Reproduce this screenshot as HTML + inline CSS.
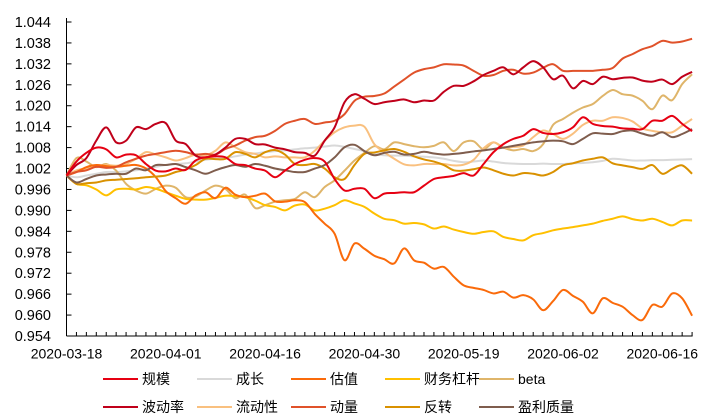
<!DOCTYPE html>
<html><head><meta charset="utf-8">
<style>
html,body{margin:0;padding:0;background:#fff;}
svg{display:block;font-family:"Liberation Sans","Noto Sans CJK SC",sans-serif;}
</style></head>
<body>
<svg id="chart" width="711" height="420" viewBox="0 0 711 420" xmlns="http://www.w3.org/2000/svg">
<g id="grid-axes"></g>
<g id="series"></g>
<g id="legend"></g>
</svg>
<script>
const xTickLabels = ["2020-03-18","2020-04-01","2020-04-16","2020-04-30","2020-05-19","2020-06-02","2020-06-16"];
const xLabelIndex = [0,10,20,30,40,50,60];
const yTicks = [0.954,0.960,0.966,0.972,0.978,0.984,0.990,0.996,1.002,1.008,1.014,1.020,1.026,1.032,1.038,1.044];
const seriesNames = ["规模","成长","估值","财务杠杆","beta","波动率","流动性","动量","反转","盈利质量"];
const seriesColors = ["#e60012","#d9d9d9","#fa6a0a","#ffc000","#dfb56a","#c0001a","#f9c07f","#e0522a","#d99100","#7f5d4d"];

const sScale = [1.000,1.004,1.0065,1.008,1.0075,1.0052,1.006,1.0058,1.0033,1.0014,1.0012,1.002,1.0016,1.0043,1.0052,1.0055,1.0052,1.0033,1.003,1.002,1.0014,0.9995,1.0014,1.0033,1.0045,1.005,1.004,0.999,0.9957,0.9962,0.9962,0.9935,0.9948,0.995,0.9952,0.9952,0.9971,0.999,0.9995,0.9999,1.0007,1.000,1.0033,1.0067,1.009,1.0105,1.0114,1.0133,1.0122,1.0119,1.0124,1.0138,1.0167,1.0148,1.0142,1.014,1.0135,1.0134,1.0133,1.0157,1.0157,1.0171,1.0148,1.0127];
const sGrowth = [1.000,0.9995,1.0,1.0005,1.001,1.001,1.0012,1.0015,1.002,1.0025,1.003,1.0033,1.0035,1.004,1.0045,1.0048,1.005,1.0055,1.006,1.0063,1.0067,1.007,1.0072,1.0075,1.0078,1.008,1.0083,1.0086,1.0082,1.0076,1.007,1.0062,1.0058,1.0057,1.0057,1.0055,1.0054,1.0052,1.0048,1.0042,1.0038,1.004,1.0043,1.004,1.0036,1.0034,1.0033,1.0033,1.0034,1.0033,1.0033,1.0035,1.0036,1.0038,1.0042,1.0048,1.0046,1.0043,1.0043,1.0044,1.0044,1.0045,1.0046,1.0047];
const sValue = [1.000,1.001,1.0024,1.003,1.0027,1.0025,1.0028,1.003,1.002,0.9995,0.9955,0.9935,0.9919,0.9943,0.9952,0.9935,0.9965,0.9945,0.9938,0.9942,0.9948,0.9926,0.9925,0.9929,0.9924,0.989,0.9862,0.9833,0.9757,0.9805,0.979,0.977,0.976,0.9748,0.9791,0.9757,0.975,0.9733,0.9738,0.971,0.9685,0.9678,0.9672,0.9662,0.9667,0.965,0.9657,0.9645,0.9614,0.964,0.9672,0.9655,0.9638,0.9605,0.9648,0.9635,0.9624,0.96,0.9586,0.9629,0.9624,0.9662,0.9648,0.9598];
const sLeverage = [1.000,0.9976,0.9972,0.996,0.9943,0.996,0.9962,0.996,0.9967,0.9962,0.9952,0.9942,0.9933,0.9931,0.9931,0.9936,0.9942,0.9941,0.9938,0.9928,0.9915,0.991,0.990,0.9914,0.9917,0.990,0.9905,0.9915,0.9929,0.992,0.991,0.9891,0.9876,0.9872,0.9862,0.9864,0.986,0.9848,0.9854,0.9845,0.9838,0.9833,0.9838,0.984,0.9824,0.9818,0.9814,0.9829,0.9835,0.9843,0.9848,0.9852,0.9857,0.9862,0.987,0.9876,0.9883,0.9875,0.9871,0.9876,0.9867,0.9857,0.9871,0.9871];
const sBeta = [1.000,1.005,1.004,1.0024,1.0033,1.0014,0.9976,0.9957,0.9948,0.9962,0.9971,0.9965,0.9938,0.994,0.9957,0.9971,0.9962,0.9935,0.9945,0.9907,0.9915,0.9925,0.9929,0.9933,0.9952,0.9938,0.9967,0.9986,1.0014,1.0043,1.0065,1.0084,1.0075,1.0095,1.009,1.0084,1.0081,1.0085,1.0095,1.007,1.0095,1.0098,1.0075,1.0095,1.008,1.0072,1.0076,1.007,1.009,1.0145,1.0162,1.018,1.0195,1.0205,1.0228,1.0245,1.0233,1.0229,1.0214,1.019,1.0229,1.0216,1.0262,1.029];
const sVolatility = [1.000,1.003,1.005,1.010,1.0138,1.0095,1.0100,1.0138,1.0133,1.0148,1.015,1.010,1.009,1.0057,1.0052,1.006,1.008,1.0105,1.0105,1.009,1.0089,1.008,1.0075,1.0067,1.0065,1.0057,1.010,1.0138,1.021,1.0233,1.022,1.0205,1.021,1.0214,1.0218,1.021,1.0215,1.0215,1.024,1.0257,1.0257,1.027,1.0288,1.030,1.031,1.029,1.031,1.0328,1.031,1.0276,1.0286,1.025,1.0271,1.0262,1.0283,1.0276,1.028,1.0281,1.0272,1.0269,1.0275,1.0262,1.0283,1.0297];
const sLiquidity = [1.000,1.0015,1.002,1.0025,1.003,1.0028,1.0033,1.0048,1.0067,1.006,1.0052,1.0043,1.005,1.006,1.0058,1.0071,1.0095,1.0081,1.0067,1.0062,1.0052,1.0055,1.0052,1.0052,1.0052,1.0071,1.010,1.0124,1.0138,1.0143,1.014,1.009,1.0067,1.0048,1.0032,1.0029,1.0033,1.0033,1.0033,1.0029,1.0031,1.0045,1.0078,1.0095,1.008,1.0082,1.0086,1.011,1.0129,1.0119,1.0105,1.012,1.0145,1.0157,1.0157,1.0167,1.0165,1.0155,1.0135,1.0128,1.0124,1.0124,1.0143,1.0162];
const sMomentum = [1.000,1.001,1.0015,1.0025,1.0022,1.0025,1.0038,1.0048,1.0057,1.0062,1.0067,1.0071,1.0067,1.006,1.0062,1.006,1.0076,1.0086,1.010,1.011,1.0114,1.0128,1.0148,1.0157,1.0162,1.0148,1.0152,1.0157,1.0176,1.0214,1.0226,1.0228,1.0235,1.0255,1.0275,1.0295,1.0305,1.031,1.0319,1.0318,1.0315,1.030,1.0286,1.0288,1.030,1.0303,1.0292,1.0295,1.0309,1.0319,1.030,1.030,1.030,1.030,1.0303,1.0308,1.0335,1.0348,1.0362,1.0371,1.0386,1.0381,1.0384,1.0392];
const sReversal = [1.000,0.9976,0.9978,0.998,0.9986,0.9988,0.999,0.9992,0.9995,0.9997,1.0,1.001,1.0017,1.003,1.0048,1.0047,1.0048,1.0067,1.0062,1.0052,1.0067,1.0073,1.006,1.0033,1.003,1.0033,1.002,0.9995,0.999,1.003,1.0062,1.0066,1.0072,1.0076,1.0068,1.0055,1.0046,1.004,1.003,1.0015,1.0014,1.0018,1.0023,1.0015,1.0005,1.0,1.0007,1.0005,1.0,1.001,1.0029,1.0035,1.0043,1.0048,1.0052,1.0035,1.0029,1.0024,1.0019,1.003,1.0005,1.0019,1.0029,1.0005];
const sQuality = [1.000,0.998,0.999,1.0,1.0003,1.0005,1.0005,1.002,1.0015,1.003,1.003,1.0033,1.0024,1.0015,1.0005,1.0015,1.0024,1.003,1.0025,1.0033,1.0028,1.002,1.0015,1.001,1.001,1.002,1.003,1.0052,1.0081,1.0088,1.007,1.0058,1.0065,1.0068,1.006,1.0062,1.0068,1.0063,1.006,1.0062,1.0065,1.0069,1.0072,1.0076,1.008,1.0085,1.009,1.0095,1.0098,1.010,1.0098,1.009,1.0105,1.0121,1.012,1.0119,1.0127,1.0129,1.012,1.0114,1.0124,1.011,1.0119,1.0133];

const seriesData = [sScale,sGrowth,sValue,sLeverage,sBeta,sVolatility,sLiquidity,sMomentum,sReversal,sQuality];
const drawOrder = [1,4,6,3,2,8,9,7,5,0];

const NS = "http://www.w3.org/2000/svg";
const X0 = 66.5, STEP = 9.93, YB = 336, YT = 22;
const yMin = yTicks[0], yMax = yTicks[yTicks.length-1];
function xs(i){ return X0 + i*STEP; }
function ys(v){ return YB - (v - yMin)/(yMax - yMin)*(YB - YT); }
function mk(tag, attrs, parent){ const e=document.createElementNS(NS,tag); for(const k in attrs) e.setAttribute(k,attrs[k]); parent.appendChild(e); return e; }

const axes = document.getElementById('grid-axes');
const nPts = sScale.length;
const xEnd = xs(nPts-1);
const ya = mk('line',{x1:X0,y1:18,x2:X0,y2:YB,stroke:'#000','stroke-width':1},axes);


const xa = mk('line',{x1:X0,y1:YB,x2:xEnd+0.5,y2:YB,stroke:'#000','stroke-width':1},axes);


yTicks.forEach(v=>{
  const y = ys(v);
  const t = mk('line',{x1:X0,y1:y,x2:X0+5,y2:y,stroke:'#000','stroke-width':1},axes);
  
  
  const l = mk('text',{x:51,y:y+5,'text-anchor':'end','font-size':'14.5',fill:'#000'},axes);
  l.textContent = v.toFixed(3);
  
  
});
for(let i=1;i<nPts;i++){
  const t = mk('line',{x1:xs(i),y1:YB,x2:xs(i),y2:YB-4,stroke:'#000','stroke-width':1},axes);
  
  
}
xTickLabels.forEach((s,k)=>{
  const l = mk('text',{x:xs(xLabelIndex[k]),y:358.5,'text-anchor':'middle','font-size':'14',fill:'#000'},axes);
  l.textContent = s;
  
  
});

function smoothPath(arr){
  const p = arr.map((v,i)=>[xs(i),ys(v)]);
  let d = 'M'+p[0][0].toFixed(2)+','+p[0][1].toFixed(2);
  for(let i=0;i<p.length-1;i++){
    const p0=p[Math.max(0,i-1)], p1=p[i], p2=p[i+1], p3=p[Math.min(p.length-1,i+2)];
    const c1x=p1[0]+(p2[0]-p0[0])/6, c1y=p1[1]+(p2[1]-p0[1])/6;
    const c2x=p2[0]-(p3[0]-p1[0])/6, c2y=p2[1]-(p3[1]-p1[1])/6;
    d+=' C'+c1x.toFixed(2)+','+c1y.toFixed(2)+' '+c2x.toFixed(2)+','+c2y.toFixed(2)+' '+p2[0].toFixed(2)+','+p2[1].toFixed(2);
  }
  return d;
}
const sg = document.getElementById('series');
drawOrder.forEach(k=>{
  const path = mk('path',{d:smoothPath(seriesData[k]),fill:'none',stroke:seriesColors[k],'stroke-width':2,'stroke-linejoin':'round'},sg);
  
  
});

const lg = document.getElementById('legend');
const colX = [103,197,291,385,479];
const rowY = [379,407];
seriesNames.forEach((n,k)=>{
  const cx = colX[k%5], cy = rowY[Math.floor(k/5)];
  const g = mk('g',{},lg);
  
  
  mk('line',{x1:cx,y1:cy,x2:cx+35,y2:cy,stroke:seriesColors[k],'stroke-width':2},g);
  const t = mk('text',{x:cx+39,y:cy+5,'font-size':'14',fill:'#000'},g);
  t.textContent = n;
});
</script>
</body></html>
